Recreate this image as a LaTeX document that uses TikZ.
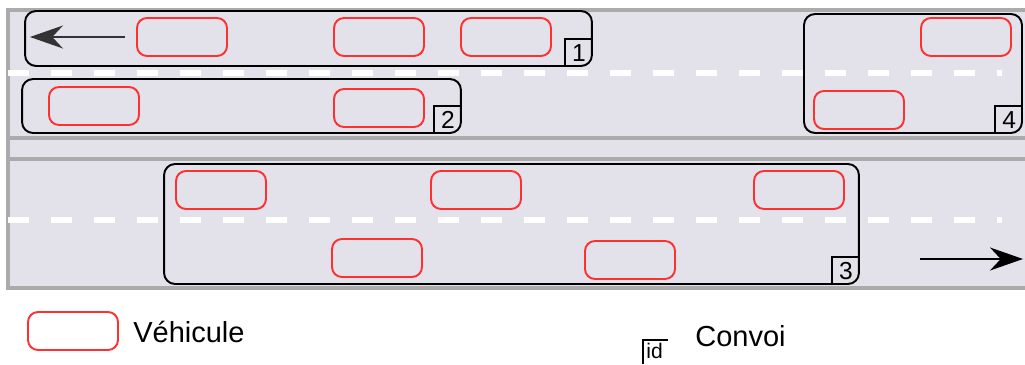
\documentclass[tikz,border=0pt]{standalone}
\usepackage{fontspec}
\setmainfont{Liberation Sans}
\usetikzlibrary{arrows.meta}
\definecolor{route}{HTML}{E3E2EA}
\definecolor{bord}{HTML}{ABABAB}
\definecolor{rouge}{HTML}{FF3030}
\begin{document}
\begin{tikzpicture}[x=0.02cm,y=-0.02cm,>={Stealth[length=0.66cm,width=0.46cm]},
    vehicule/.style={draw=rouge,line width=1.1pt,rounded corners=0.2cm,minimum width=1.8cm,minimum height=0.76cm},
    convoi/.style={draw,line width=1.1pt,rounded corners=0.22cm,inner sep=0},
    numero/.style={anchor=south east,minimum width=0.54cm,minimum height=0.55cm,inner sep=0,font=\fontsize{14}{14}\selectfont},
    bande/.style={white,line width=0.11cm,dash pattern=on 0.42cm off 0.44cm}]
                \useasboundingbox (0,0) rectangle (1025,365);
                \fill[route] (8,10) rectangle (1025,288);
                \draw[bord,line width=0.07cm] (1025,10) -- (8,10) -- (8,288) -- (1025,288);
                \draw[bord,line width=0.07cm] (8,138) -- (1025,138);
                \draw[bord,line width=0.07cm] (8,159) -- (1025,159);
                \draw[bande] (8,73) -- (1002,73);
                \draw[bande] (8,220) -- (1002,220);
                \node[convoi,minimum width=11.34cm,minimum height=1.1cm] (c1) at (308.5,38.5) {};
                \node[convoi,minimum width=8.78cm,minimum height=1.08cm] (c2) at (241.5,106) {};
                \node[convoi,minimum width=4.36cm,minimum height=2.38cm] (c4) at (913,73.5) {};
                \node[convoi,minimum width=13.9cm,minimum height=2.4cm] (c3) at (511.5,224) {};
                \node[numero] (n1) at (c1.south east) {1};
                \node[numero] (n2) at (c2.south east) {2};
                \node[numero] (n4) at (c4.south east) {4};
                \node[numero] (n3) at (c3.south east) {3};
                \foreach \n in {n1,n2,n3,n4}
                    \draw[line width=0.9pt] (\n.south west) |- (\n.north east);
                \node[vehicule] (v11) at (182,37) {};
                \node[vehicule] (v12) at (379,37) {};
                \node[vehicule] (v13) at (506,37) {};
                \node[vehicule] (v21) at (94,106) {};
                \node[vehicule] (v22) at (379,108) {};
                \node[vehicule] (v41) at (966,37) {};
                \node[vehicule] (v42) at (859,110) {};
                \node[vehicule] (v31) at (221,190) {};
                \node[vehicule] (v32) at (476,190) {};
                \node[vehicule] (v33) at (799,190) {};
                \node[vehicule] (v34) at (377,258) {};
                \node[vehicule] (v35) at (630,260) {};
                \coordinate (g1) at (125,37);
                \coordinate (g2) at (30,37);
                \coordinate (d1) at (920,259);
                \coordinate (d2) at (1023,259);
                \draw[->,line width=1.1pt,black!80] (g1) -- (g2);
                \draw[->,line width=1.1pt] (d1) -- (d2);
                \node[vehicule] (lv) at (73,331) {};
                \node[anchor=west,inner sep=0,font=\fontsize{16.5}{16.5}\selectfont] (lvt) at (133,332) {Véhicule};
                \coordinate (lc) at (643,340);
                \draw[line width=0.9pt] (lc) ++(0,-0.48cm) -- (lc) -- ++(0.5cm,0);
                \node[anchor=north west,inner sep=0,font=\fontsize{12}{12}\selectfont] (lid) at (646,343) {id};
                \node[anchor=west,inner sep=0,font=\fontsize{16.5}{16.5}\selectfont] (lct) at (695,336) {Convoi};
            \end{tikzpicture}
\end{document}
